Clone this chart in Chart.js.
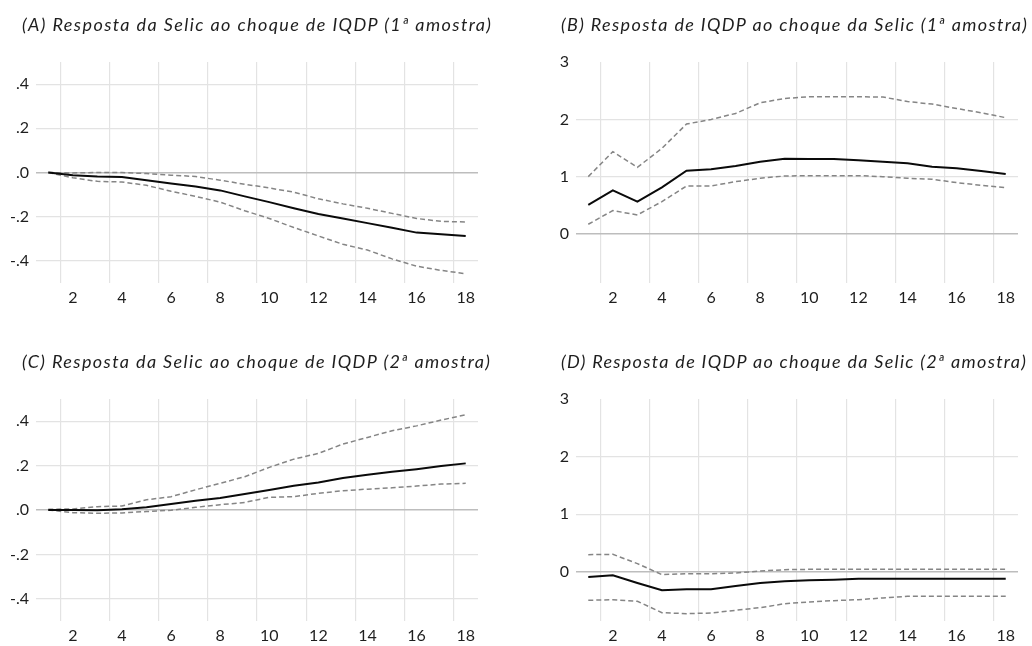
<html lang="pt">
<head>
  <meta charset="UTF-8" />
  <title>Respostas ao impulso - Selic e IQDP</title>
  <script src="https://cdn.jsdelivr.net/npm/chart.js"></script>
  <style>
    body {
      margin: 0;
      background: #fff;
      font-family: Lato, sans-serif;
    }

    #wrap {
      position: relative;
      width: 1032px;
      height: 646px;
      overflow: hidden;
    }

    .panel {
      position: absolute;
      width: 516px;
      height: 323px;
    }

    .panel canvas {
      display: block;
    }

    .titulo {
      position: absolute;
      font-style: italic;
      font-size: 18px;
      line-height: 20px;
      color: #1e1e1e;
      white-space: nowrap;
    }
  </style>
</head>
<body>
  <div id="wrap"></div>

  <script>
    const periodos = ['1', '2', '3', '4', '5', '6', '7', '8', '9', '10', '11', '12', '13', '14', '15', '16', '17', '18'];

    // (A) Selic ao choque de IQDP, 1a amostra
    const selicA = [0, -0.012, -0.018, -0.02, -0.035, -0.05, -0.063, -0.081, -0.108, -0.134, -0.162, -0.188, -0.208, -0.229, -0.25, -0.272, -0.279, -0.287];
    const selicASup = [0, -0.002, 0, 0, -0.005, -0.012, -0.018, -0.035, -0.053, -0.07, -0.089, -0.119, -0.142, -0.162, -0.185, -0.208, -0.221, -0.224];
    const selicAInf = [0, -0.024, -0.04, -0.043, -0.058, -0.085, -0.108, -0.134, -0.173, -0.208, -0.249, -0.287, -0.325, -0.351, -0.391, -0.424, -0.443, -0.458];

    // (B) IQDP ao choque da Selic, 1a amostra
    const iqdpB = [0.51, 0.765, 0.568, 0.817, 1.107, 1.13, 1.188, 1.264, 1.316, 1.31, 1.31, 1.287, 1.264, 1.235, 1.177, 1.148, 1.101, 1.049];
    const iqdpBSup = [1.003, 1.438, 1.165, 1.496, 1.919, 2.0, 2.104, 2.29, 2.365, 2.394, 2.394, 2.394, 2.39, 2.31, 2.267, 2.19, 2.116, 2.03];
    const iqdpBInf = [0.174, 0.412, 0.336, 0.568, 0.84, 0.84, 0.916, 0.974, 1.014, 1.02, 1.02, 1.02, 1.003, 0.974, 0.957, 0.899, 0.852, 0.81];

    // (C) Selic ao choque de IQDP, 2a amostra
    const selicC = [0, 0, -0.001, 0.003, 0.012, 0.027, 0.042, 0.054, 0.072, 0.09, 0.109, 0.124, 0.144, 0.159, 0.172, 0.184, 0.198, 0.21];
    const selicCSup = [0.003, 0.005, 0.015, 0.018, 0.046, 0.06, 0.091, 0.12, 0.15, 0.192, 0.229, 0.255, 0.297, 0.327, 0.357, 0.379, 0.405, 0.429];
    const selicCInf = [0, -0.012, -0.015, -0.013, -0.007, -0.001, 0.012, 0.024, 0.034, 0.057, 0.06, 0.075, 0.087, 0.094, 0.1, 0.108, 0.117, 0.12];

    // (D) IQDP ao choque da Selic, 2a amostra
    const iqdpD = [-0.087, -0.058, -0.19, -0.318, -0.3, -0.3, -0.243, -0.19, -0.162, -0.145, -0.133, -0.116, -0.116, -0.116, -0.116, -0.116, -0.116, -0.116];
    const iqdpDSup = [0.3, 0.306, 0.145, -0.046, -0.029, -0.029, -0.017, 0.017, 0.04, 0.046, 0.046, 0.046, 0.046, 0.046, 0.046, 0.046, 0.046, 0.046];
    const iqdpDInf = [-0.491, -0.48, -0.509, -0.705, -0.723, -0.711, -0.665, -0.618, -0.55, -0.52, -0.497, -0.48, -0.45, -0.422, -0.422, -0.422, -0.422, -0.422];

    const ticksSelic = [-0.4, -0.2, 0, 0.2, 0.4];
    const rotulosSelic = ['-.4', '-.2', '.0', '.2', '.4'];
    const ticksIqdp = [0, 1, 2, 3];
    const rotulosIqdp = ['0', '1', '2', '3'];

    const titulos = [
      '(A) Resposta da Selic ao choque de IQDP (1ª amostra)',
      '(B) Resposta de IQDP ao choque da Selic (1ª amostra)',
      '(C) Resposta da Selic ao choque de IQDP (2ª amostra)',
      '(D) Resposta de IQDP ao choque da Selic (2ª amostra)'
    ];

    const paineis = [
      { left: 0, top: 0, area: [36, 62, 478, 283], titulo: [22, 14, 469],
        linhas: [selicA, selicASup, selicAInf], min: -0.5, max: 0.5, ticks: ticksSelic, rotulos: rotulosSelic },
      { left: 516, top: 0, area: [60, 62, 502, 283], titulo: [45, 14, 466],
        linhas: [iqdpB, iqdpBSup, iqdpBInf], min: -0.85, max: 3, ticks: ticksIqdp, rotulos: rotulosIqdp },
      { left: 0, top: 323, area: [36, 76, 478, 298], titulo: [22, 28, 468],
        linhas: [selicC, selicCSup, selicCInf], min: -0.5, max: 0.5, ticks: ticksSelic, rotulos: rotulosSelic },
      { left: 516, top: 323, area: [60, 76, 502, 298], titulo: [45, 28, 465],
        linhas: [iqdpD, iqdpDSup, iqdpDInf], min: -0.85, max: 3, ticks: ticksIqdp, rotulos: rotulosIqdp }
    ];

    const wrap = document.getElementById('wrap');
    const fonteTicks = { family: 'Lato', size: 16 };

    paineis.forEach((p, i) => {
      const div = document.createElement('div');
      div.className = 'panel';
      div.style.left = p.left + 'px';
      div.style.top = p.top + 'px';

      const canvas = document.createElement('canvas');
      canvas.width = 516;
      canvas.height = 323;
      div.appendChild(canvas);

      const t = document.createElement('div');
      t.className = 'titulo';
      t.textContent = titulos[i];
      t.style.left = p.titulo[0] + 'px';
      t.style.top = p.titulo[1] + 'px';
      div.appendChild(t);
      wrap.appendChild(div);

      // stretch the title to the width it has in the original
      const w = t.getBoundingClientRect().width;
      t.style.letterSpacing = ((p.titulo[2] - w) / (titulos[i].length - 1)) + 'px';

      const [aL, aT, aR, aB] = p.area;

      new Chart(canvas.getContext('2d'), {
        type: 'line',
        data: {
          labels: periodos,
          datasets: [
            { data: p.linhas[0], borderColor: '#0a0a0a', borderWidth: 2 },
            { data: p.linhas[1], borderColor: '#858585', borderWidth: 1.5, borderDash: [5, 3] },
            { data: p.linhas[2], borderColor: '#858585', borderWidth: 1.5, borderDash: [5, 3] }
          ]
        },
        options: {
          responsive: false,
          animation: false,
          devicePixelRatio: 1,
          layout: { padding: { left: 0, top: aT, right: 516 - aR, bottom: 0 } },
          elements: { point: { radius: 0 }, line: { tension: 0, fill: false } },
          plugins: { legend: { display: false }, title: { display: false }, tooltip: { enabled: false } },
          scales: {
            x: {
              offset: true,
              afterFit: s => { s.height = 323 - aB; },
              grid: {
                offset: true,
                drawTicks: false,
                color: ctx => ctx.index % 2 === 1 ? '#e3e3e3' : 'rgba(0,0,0,0)',
                lineWidth: 1.2
              },
              border: { display: false },
              ticks: {
                autoSkip: false,
                maxRotation: 0,
                padding: 5,
                color: '#1e1e1e',
                font: fonteTicks,
                callback: function (v, idx) { return idx % 2 === 1 ? this.getLabelForValue(v) : ''; }
              }
            },
            y: {
              min: p.min,
              max: p.max,
              afterFit: s => { s.width = aL; },
              afterBuildTicks: s => { s.ticks = p.ticks.map(v => ({ value: v })); },
              grid: {
                drawTicks: false,
                color: ctx => ctx.tick.value === 0 ? '#bdbdbd' : (ctx.tick.value === p.max ? 'rgba(0,0,0,0)' : '#e3e3e3'),
                lineWidth: ctx => ctx.tick.value === 0 ? 1.6 : 1.2
              },
              border: { display: false },
              ticks: {
                padding: 7,
                color: '#1e1e1e',
                font: fonteTicks,
                callback: v => p.rotulos[p.ticks.indexOf(v)]
              }
            }
          }
        }
      });
    });
  </script>
</body>
</html>
